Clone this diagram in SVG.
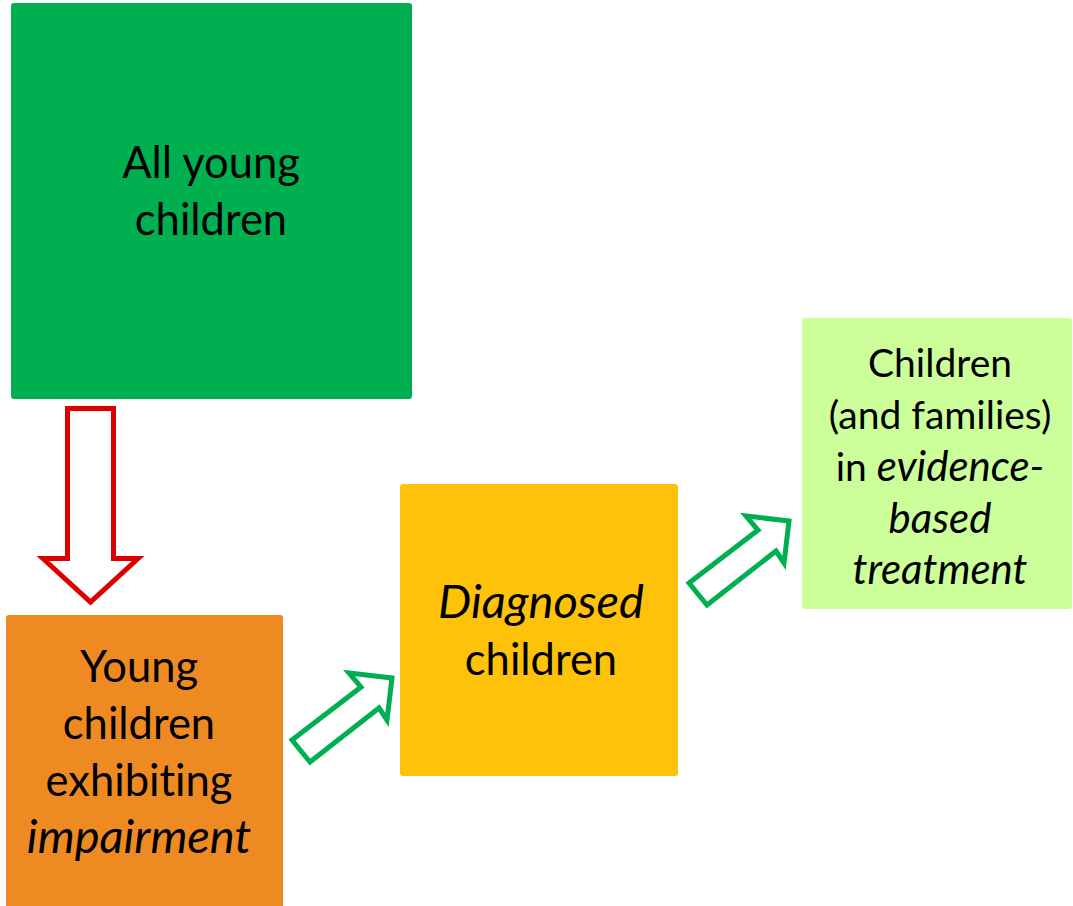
<svg xmlns="http://www.w3.org/2000/svg" width="1073" height="906" viewBox="0 0 1073 906">
<style>
.lbl{font-family:Lato,"Liberation Sans",sans-serif;fill:#000;text-anchor:middle;font-variant-ligatures:none}
.big{font-size:43.5px}
.small{font-size:39px}
.big .it,.big.it{font-style:italic;font-size:47px}
.small .it,.small.it{font-style:italic;font-size:42px}
.garrow{fill:#fff;stroke:#00B050;stroke-width:5;stroke-linejoin:miter}
</style>
<rect width="1073" height="906" fill="#fff"/>
<g id="node-all">
<rect x="11" y="3" width="401" height="396" rx="3" fill="#00B050"/>
<text class="lbl big" x="211" y="178">All young</text>
<text class="lbl big" x="211" y="235">children</text>
</g>
<g id="node-impairment">
<rect x="6" y="615" width="277" height="300" rx="3" fill="#EE8A22"/>
<text class="lbl big" x="139" y="682">Young</text>
<text class="lbl big" x="139" y="739">children</text>
<text class="lbl big" x="139" y="796">exhibiting</text>
<text class="lbl big it" x="139" y="853">impairment</text>
</g>
<g id="node-diagnosed">
<rect x="400" y="484" width="278" height="292" rx="3" fill="#FFC20A"/>
<text class="lbl big it" x="541" y="618">Diagnosed</text>
<text class="lbl big" x="541" y="675">children</text>
</g>
<g id="node-treatment">
<rect x="802" y="318" width="270" height="291" rx="3" fill="#CCFF99"/>
<text class="lbl small" x="940" y="377">Children</text>
<text class="lbl small" x="940" y="429">(and families)</text>
<text class="lbl small" x="940" y="481">in <tspan class="it">evidence-</tspan></text>
<text class="lbl small it" x="940" y="533">based</text>
<text class="lbl small it" x="940" y="584">treatment</text>
</g>
<g id="connectors">
<polygon points="67.5,408.5 113.5,408.5 113.5,558.5 138,558.5 90.5,602 43,558.5 67.5,558.5" fill="#fff" stroke="#DD0000" stroke-width="5"/>
<polygon class="garrow" points="292,740 361,687 349,673 392,678 387,720 379,708 310,762"/>
<polygon class="garrow" transform="translate(397,-157)" points="292,740 361,687 349,673 392,678 387,720 379,708 310,762"/>
</g>
</svg>
